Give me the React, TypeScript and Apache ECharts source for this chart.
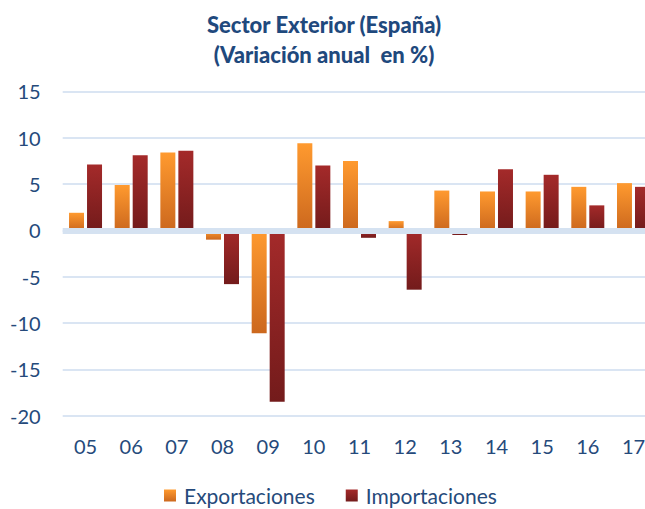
import React, { useEffect, useRef } from "react";
import * as echarts from "echarts";

const categories = ["05", "06", "07", "08", "09", "10", "11", "12", "13", "14", "15", "16", "17"];
const exportaciones = [1.9, 4.9, 8.4, -1.0, -11.1, 9.4, 7.5, 1.0, 4.3, 4.2, 4.2, 4.7, 5.1];
const importaciones = [7.1, 8.1, 8.6, -5.8, -18.5, 7.0, -0.8, -6.4, -0.5, 6.6, 6.0, 2.7, 4.7];
const yMin = -20;
const yMax = 15;
const yStep = 5;
const titleLines = ["Sector Exterior (España)", "(Variación anual  en %)"];
const seriesNames = ["Exportaciones", "Importaciones"];

const FONT = "Lato, 'Open Sans', sans-serif";
const TEXT_BLUE = "#254a7b";

const grad = (top: string, bottom: string) =>
  new echarts.graphic.LinearGradient(0, 0, 0, 1, [
    { offset: 0, color: top },
    { offset: 1, color: bottom },
  ]);

export default function App() {
  const ref = useRef<HTMLDivElement>(null);
  useEffect(() => {
    if (!ref.current) return;
    const chart = echarts.init(ref.current, undefined, { renderer: "svg" });
    chart.setOption({
      animation: false,
      backgroundColor: "#ffffff",
      title: {
        text: titleLines.join("\n"),
        left: 319,
        textAlign: "center",
        top: 4,
        textStyle: {
          fontFamily: FONT,
          fontWeight: 900,
          fontSize: 22,
          lineHeight: 30,
          color: "#1f497d",
        },
      },
      legend: {
        left: 159,
        top: 480,
        itemWidth: 12,
        itemHeight: 12,
        itemGap: 31,
        icon: "rect",
        textStyle: {
          fontFamily: FONT,
          fontSize: 21,
          color: TEXT_BLUE,
          padding: [0, 0, 0, 3],
        },
        data: seriesNames,
      },
      grid: {
        left: 62.7,
        right: 0.7,
        top: 91.4,
        bottom: 93.3,
        containLabel: false,
      },
      xAxis: {
        type: "category",
        data: categories,
        boundaryGap: true,
        axisLine: { show: false, onZero: false },
        axisTick: { show: false },
        axisLabel: {
          margin: 20,
          fontFamily: FONT,
          fontSize: 20,
          color: TEXT_BLUE,
        },
        splitLine: { show: false },
      },
      yAxis: {
        type: "value",
        min: yMin,
        max: yMax,
        interval: yStep,
        axisLine: { show: false },
        axisTick: { show: false },
        axisLabel: {
          margin: 22,
          fontFamily: FONT,
          fontSize: 20,
          color: TEXT_BLUE,
        },
        splitLine: { lineStyle: { color: "#dae5f3", width: 2 } },
      },
      series: [
        {
          name: seriesNames[0],
          type: "bar",
          data: exportaciones,
          barWidth: 15,
          barGap: "20%",
          itemStyle: { color: grad("#ff9a2f", "#cc681e") },
        },
        {
          name: seriesNames[1],
          type: "bar",
          data: importaciones,
          barWidth: 15,
          barGap: "20%",
          itemStyle: { color: grad("#a42a2a", "#731b1b") },
          markLine: {
            silent: true,
            symbol: ["none", "none"],
            label: { show: false },
            lineStyle: { color: "#d5e2f1", width: 6, type: "solid" },
            data: [{ yAxis: 0 }],
            z: 10,
          },
        },
      ],
    });
    return () => chart.dispose();
  }, []);
  return (
    <div
      style={{
        position: "fixed",
        left: 0,
        top: 0,
        width: 645,
        height: 509,
        overflow: "hidden",
      }}
    >
      <div ref={ref} style={{ width: 657, height: 509 }} />
    </div>
  );
}
